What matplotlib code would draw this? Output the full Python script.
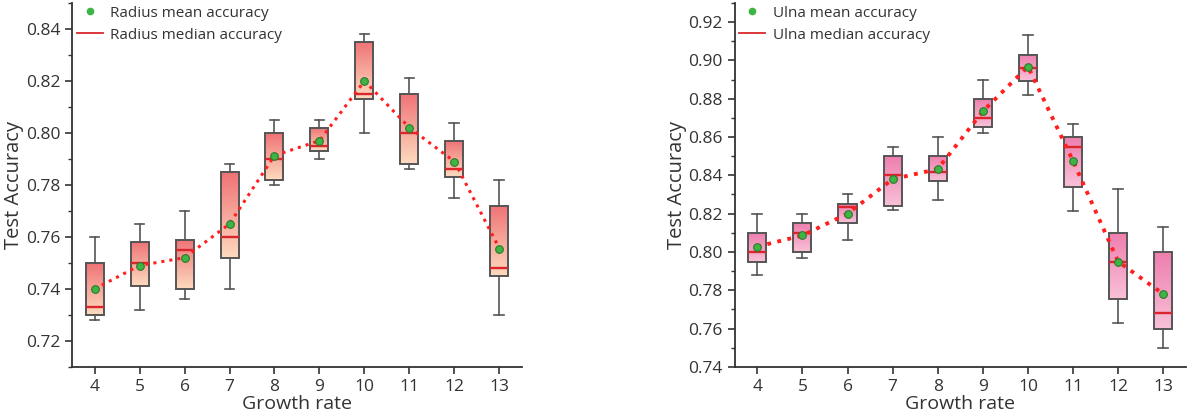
import numpy as np
import matplotlib
matplotlib.use("Agg")
import matplotlib.pyplot as plt
from matplotlib.lines import Line2D
from matplotlib.colors import LinearSegmentedColormap

plt.rcParams['font.family'] = ['Open Sans', 'DejaVu Sans']

growth_rate = [4, 5, 6, 7, 8, 9, 10, 11, 12, 13]

radius_low = [0.728, 0.732, 0.736, 0.740, 0.780, 0.790, 0.800, 0.786, 0.775, 0.730]
radius_q1 = [0.730, 0.741, 0.740, 0.752, 0.782, 0.793, 0.813, 0.788, 0.783, 0.745]
radius_med = [0.733, 0.750, 0.755, 0.760, 0.790, 0.795, 0.815, 0.800, 0.786, 0.748]
radius_q3 = [0.750, 0.758, 0.759, 0.785, 0.800, 0.802, 0.835, 0.815, 0.797, 0.772]
radius_high = [0.760, 0.765, 0.770, 0.788, 0.805, 0.805, 0.838, 0.821, 0.804, 0.782]
radius_mean = [0.740, 0.749, 0.752, 0.765, 0.7913, 0.797, 0.820, 0.802, 0.789, 0.7555]

ulna_low = [0.788, 0.797, 0.806, 0.822, 0.827, 0.862, 0.882, 0.8214, 0.763, 0.750]
ulna_q1 = [0.795, 0.800, 0.815, 0.824, 0.837, 0.865, 0.889, 0.834, 0.7753, 0.760]
ulna_med = [0.800, 0.810, 0.8237, 0.840, 0.842, 0.870, 0.896, 0.855, 0.795, 0.768]
ulna_q3 = [0.810, 0.815, 0.825, 0.850, 0.850, 0.880, 0.903, 0.860, 0.810, 0.800]
ulna_high = [0.820, 0.820, 0.830, 0.855, 0.860, 0.890, 0.913, 0.867, 0.8327, 0.8128]
ulna_mean = [0.8028, 0.8086, 0.820, 0.838, 0.8433, 0.8734, 0.8968, 0.8475, 0.795, 0.778]

fig = plt.figure(figsize=(11.87, 4.16), dpi=100)
ax1 = fig.add_axes([0.0607, 0.118, 0.379, 0.875])
ax2 = fig.add_axes([0.619, 0.118, 0.380, 0.875])


def draw_panel(ax, low, q1, med, q3, high, mean, c_top, c_bot, name, ylim,
               yticks, dot_lw):
    stats = []
    for i in range(len(growth_rate)):
        stats.append(dict(whislo=low[i], q1=q1[i], med=med[i], q3=q3[i],
                          whishi=high[i], mean=mean[i], fliers=[]))
    res = ax.bxp(stats, positions=growth_rate, widths=0.4, patch_artist=True,
                 showmeans=False, showfliers=False,
                 boxprops=dict(facecolor='none', edgecolor='#555555', linewidth=1.4),
                 whiskerprops=dict(color='#555555', linewidth=1.2),
                 capprops=dict(color='#555555', linewidth=1.2),
                 medianprops=dict(color='#d9262c', linewidth=1.7),
                 capwidths=0.22, zorder=3)
    cmap = LinearSegmentedColormap.from_list('g', [c_bot, c_top])
    grad = np.linspace(0, 1, 256).reshape(-1, 1)
    for patch in res['boxes']:
        ext = patch.get_path().get_extents()
        im = ax.imshow(grad, extent=[ext.x0, ext.x1, ext.y0, ext.y1],
                       origin='lower', aspect='auto', cmap=cmap, zorder=2,
                       interpolation='bilinear')
        im.set_clip_path(patch)
    ax.plot(growth_rate, mean, linestyle=':', color='#ff1f1f', linewidth=dot_lw,
            zorder=4)
    ax.plot(growth_rate, mean, linestyle='none', marker='o', markersize=5.5,
            markerfacecolor='#3db443', markeredgecolor='#2b7a2b',
            markeredgewidth=0.8, zorder=5)
    ax.set_xlim(3.5, 13.5)
    ax.set_ylim(*ylim)
    ax.set_xticks(growth_rate)
    ax.set_xticklabels([str(g) for g in growth_rate])
    ax.set_yticks(yticks)
    ax.set_yticklabels([f"{t:.2f}" for t in yticks])
    ax.set_yticks(np.arange(ylim[0], ylim[1] + 1e-9, 0.01), minor=True)
    for s in ['top', 'right']:
        ax.spines[s].set_visible(False)
    for s in ['left', 'bottom']:
        ax.spines[s].set_color('#333333')
        ax.spines[s].set_linewidth(1.3)
    ax.tick_params(axis='both', which='major', direction='out', length=5,
                   width=1.2, color='#333333', labelsize=12.5,
                   labelcolor='#333333')
    ax.tick_params(axis='y', which='minor', direction='out', length=3,
                   width=1.0, color='#333333')
    ax.set_xlabel('Growth rate', fontsize=14, color='#333333', labelpad=0)
    ax.set_ylabel('Test Accuracy', fontsize=14.5, color='#333333', labelpad=1)
    handles = [
        Line2D([], [], linestyle='none', marker='o', markersize=4.5,
               markerfacecolor='#3db443', markeredgecolor='#3db443'),
        Line2D([], [], color='#d9262c', linewidth=1.3),
    ]
    ax.legend(handles, [f'{name} mean accuracy', f'{name} median accuracy'],
              loc='upper left', bbox_to_anchor=(-0.02, 1.03), frameon=False,
              fontsize=11, handlelength=1.7, handletextpad=0.5,
              labelspacing=0.45, labelcolor='#333333')


draw_panel(ax1, radius_low, radius_q1, radius_med, radius_q3, radius_high,
           radius_mean, '#f07276', '#fddbbf', 'Radius', (0.71, 0.85),
           [0.72, 0.74, 0.76, 0.78, 0.80, 0.82, 0.84], 2.2)
draw_panel(ax2, ulna_low, ulna_q1, ulna_med, ulna_q3, ulna_high,
           ulna_mean, '#ee7eae', '#f8c1d8', 'Ulna', (0.74, 0.93),
           [0.74, 0.76, 0.78, 0.80, 0.82, 0.84, 0.86, 0.88, 0.90, 0.92], 2.8)

fig.savefig('out.png', dpi=100)
